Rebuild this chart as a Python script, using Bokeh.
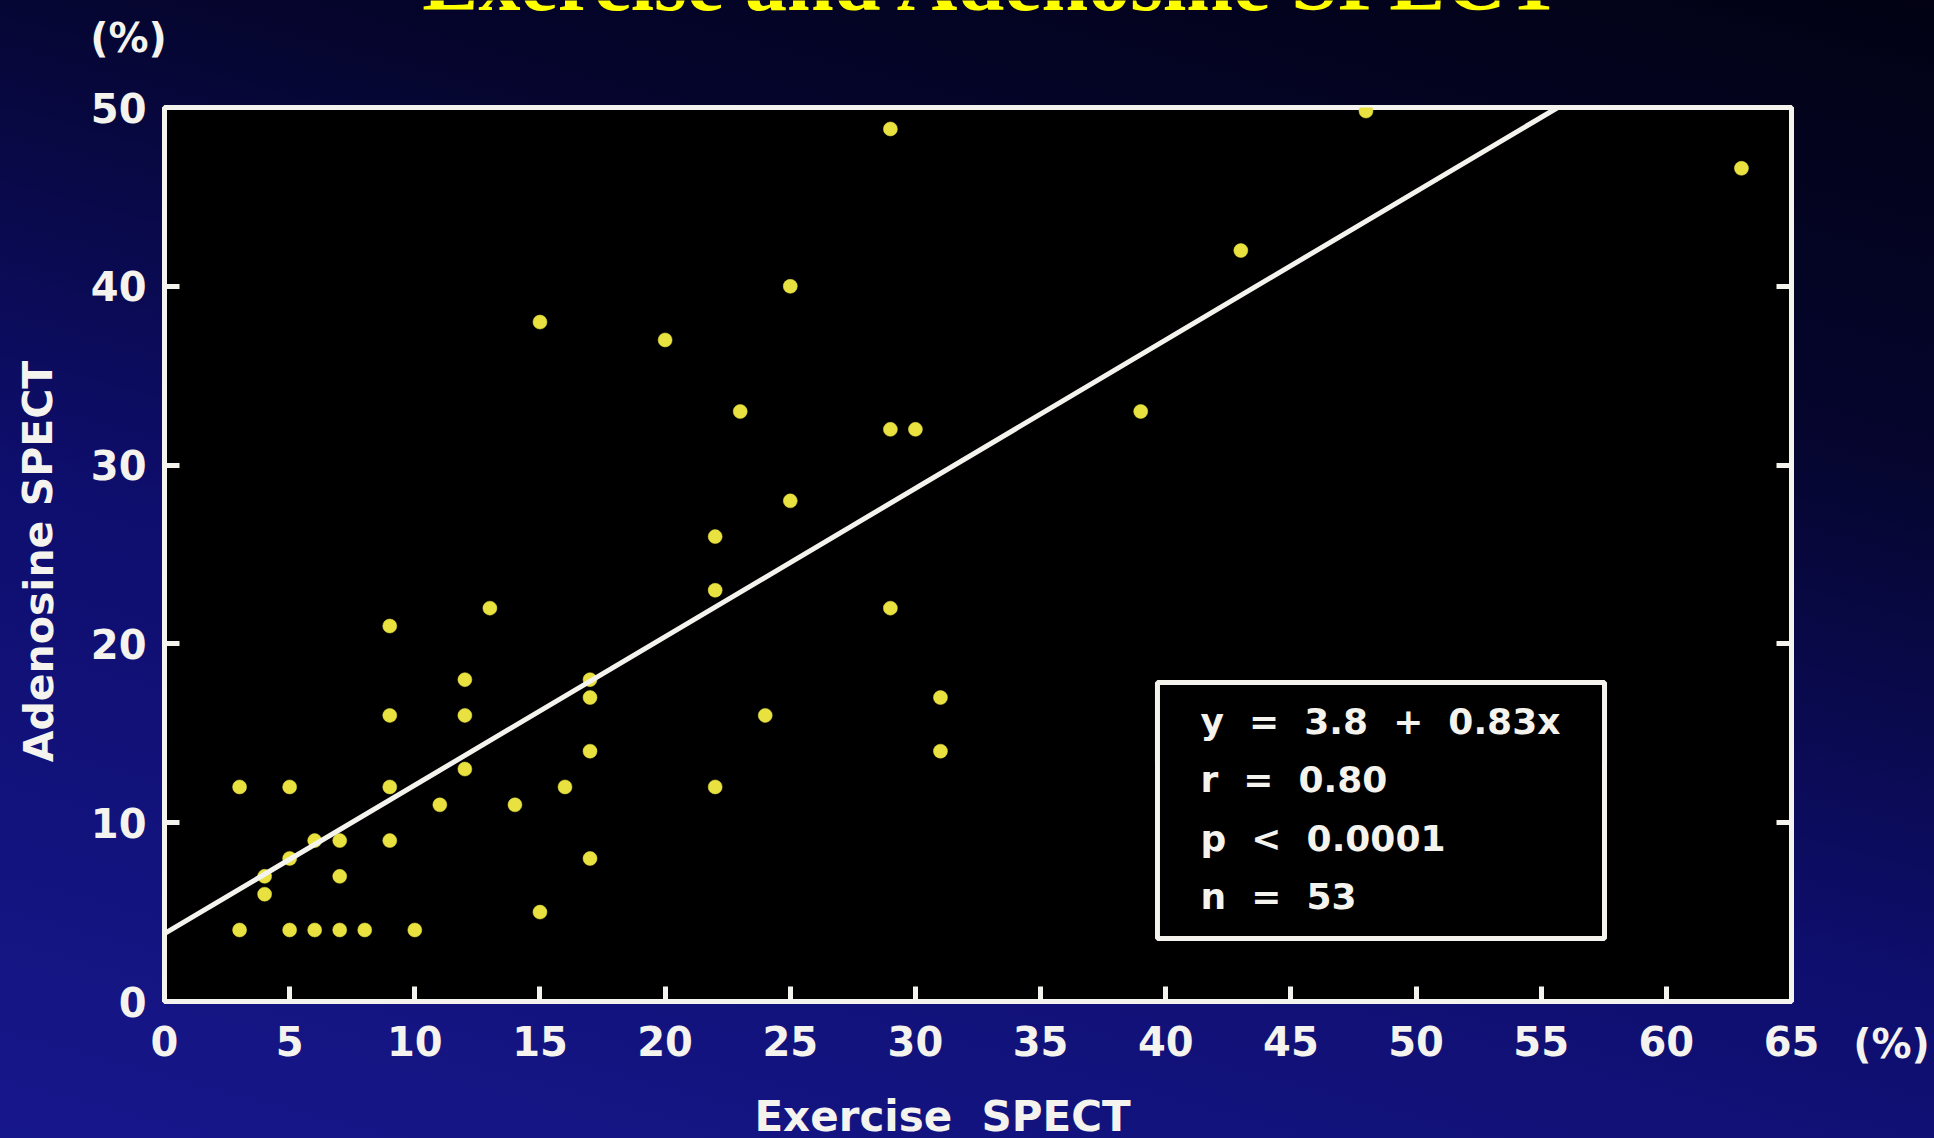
from bokeh.plotting import figure
from bokeh.models import (Range1d, FixedTicker, LinearAxis, Label, BoxAnnotation,
                          Slope, ColumnDataSource)
from bokeh.core.properties import value
from bokeh.embed import file_html
from bokeh.resources import INLINE

# Perfusion defect size (%) per patient: exercise vs adenosine SPECT
exercise = [3, 5, 9, 13, 12, 9, 12, 17, 17, 17, 12, 9, 16, 11, 14, 6, 7, 9, 5, 4,
            4, 7, 17, 15, 3, 5, 6, 7, 8, 10, 15, 20, 25, 29, 23, 29, 30, 25, 22, 22,
            29, 24, 31, 31, 22, 39, 43, 48, 63]
adenosine = [12, 12, 21, 22, 18, 16, 16, 18, 17, 14, 13, 12, 12, 11, 11, 9, 9, 9, 8, 7,
             6, 7, 8, 5, 4, 4, 4, 4, 4, 4, 38, 37, 40, 48.8, 33, 32, 32, 28, 26, 23,
             22, 16, 17, 14, 12, 33, 42, 49.8, 46.6]

# Regression statistics
intercept = 3.8
slope = 0.83
r_value = "0.80"
p_value = "0.0001"
n_patients = 53

x_ticks = [0, 5, 10, 15, 20, 25, 30, 35, 40, 45, 50, 55, 60, 65]
y_ticks = [0, 10, 20, 30, 40, 50]

title_text = "Exercise and Adenosine SPECT"
x_title = "Exercise\u00a0\u00a0SPECT"
y_title = "Adenosine SPECT"
unit_text = "(%)"

FONT = "DejaVu Sans"
WHITE = "#f4f3ee"
YELLOW = "#e8e140"
SP = "\u00a0\u00a0"

W, H = 1934, 1138

# ---- main scatter plot -------------------------------------------------
p = figure(width=W, height=H, output_backend="svg", toolbar_location=None,
           x_range=Range1d(0, 65), y_range=Range1d(0, 50),
           x_axis_location=None, y_axis_location=None,
           min_border_left=164, min_border_right=143,
           min_border_top=107, min_border_bottom=137)

p.background_fill_color = "black"
p.border_fill_color = None
p.styles = {"background": "linear-gradient(195deg, #020214 0%, #05052e 28%, "
                          "#0e0e6e 60%, #17178c 100%)"}
p.outline_line_color = WHITE
p.outline_line_width = 5
p.grid.visible = False


def style_axis(ax, show_labels=True):
    ax.axis_line_color = WHITE
    ax.axis_line_width = 5
    ax.major_tick_in = 15
    ax.major_tick_out = 0
    ax.major_tick_line_color = WHITE
    ax.major_tick_line_width = 5
    ax.minor_tick_line_color = None
    ax.major_label_text_font = FONT
    ax.major_label_text_font_style = "bold"
    ax.major_label_text_font_size = "40px"
    ax.major_label_text_color = WHITE if show_labels else None


xaxis = LinearAxis(ticker=FixedTicker(ticks=x_ticks), major_label_standoff=24)
style_axis(xaxis)
p.add_layout(xaxis, "below")

yaxis = LinearAxis(ticker=FixedTicker(ticks=y_ticks), major_label_standoff=18)
style_axis(yaxis)
p.add_layout(yaxis, "left")

yaxis_r = LinearAxis(ticker=FixedTicker(ticks=y_ticks))
style_axis(yaxis_r, show_labels=False)
p.add_layout(yaxis_r, "right")

# Data points
src = ColumnDataSource(dict(x=exercise, y=adenosine))
p.scatter("x", "y", source=src, size=14, fill_color=YELLOW, line_color=YELLOW,
          line_alpha=0.5)

# Regression line
p.add_layout(Slope(gradient=slope, y_intercept=intercept,
                   line_color=WHITE, line_width=5))

# Statistics box
p.add_layout(BoxAnnotation(left=39.67, right=57.53, bottom=3.52, top=17.84,
                           fill_color="black", fill_alpha=1.0,
                           line_color=WHITE, line_alpha=1.0, line_width=5,
                           level="annotation"))

stats_lines = [f"y{SP}={SP}{intercept}{SP}+{SP}{slope}x",
               f"r{SP}={SP}{r_value}",
               f"p{SP}<{SP}{p_value}",
               f"n{SP}={SP}{n_patients}"]
for i, line in enumerate(stats_lines):
    p.add_layout(Label(x=41.39, y=15.66 - 3.27 * i, text=line,
                       text_font=FONT, text_font_style="bold",
                       text_font_size="36px", text_color=WHITE,
                       text_align="left", text_baseline="alphabetic"))

# ---- transparent overlay in canvas pixels for the surrounding texts -----
ov = figure(width=W, height=H, output_backend="svg", toolbar_location=None,
            x_range=Range1d(0, W), y_range=Range1d(0, H),
            x_axis_location=None, y_axis_location=None,
            min_border_left=0, min_border_right=0,
            min_border_top=0, min_border_bottom=0)
ov.background_fill_color = None
ov.border_fill_color = None
ov.outline_line_color = None
ov.grid.visible = False
ov.styles = {"position": "absolute", "top": "0px", "left": "0px",
             "pointer-events": "none"}


def overlay_text(text, px, py, size, font=FONT, color=WHITE, angle=0.0,
                 baseline="middle"):
    ov.text(x=[px], y=[H - py], text=[text], text_font=value(font),
            text_font_style="bold", text_font_size=size, text_color=color,
            text_align="center", text_baseline=baseline, angle=angle)


overlay_text(title_text, 994, -19, "84px", font="Liberation Serif",
             color="#ffff00", baseline="alphabetic")
overlay_text(unit_text, 128, 37, "40px")
overlay_text(unit_text, 1891, 1043, "40px")
overlay_text(x_title, 942, 1116, "42px")
overlay_text(y_title, 38, 561, "41px", angle=1.5708)

open("out.html", "w").write(file_html([p, ov], INLINE))
